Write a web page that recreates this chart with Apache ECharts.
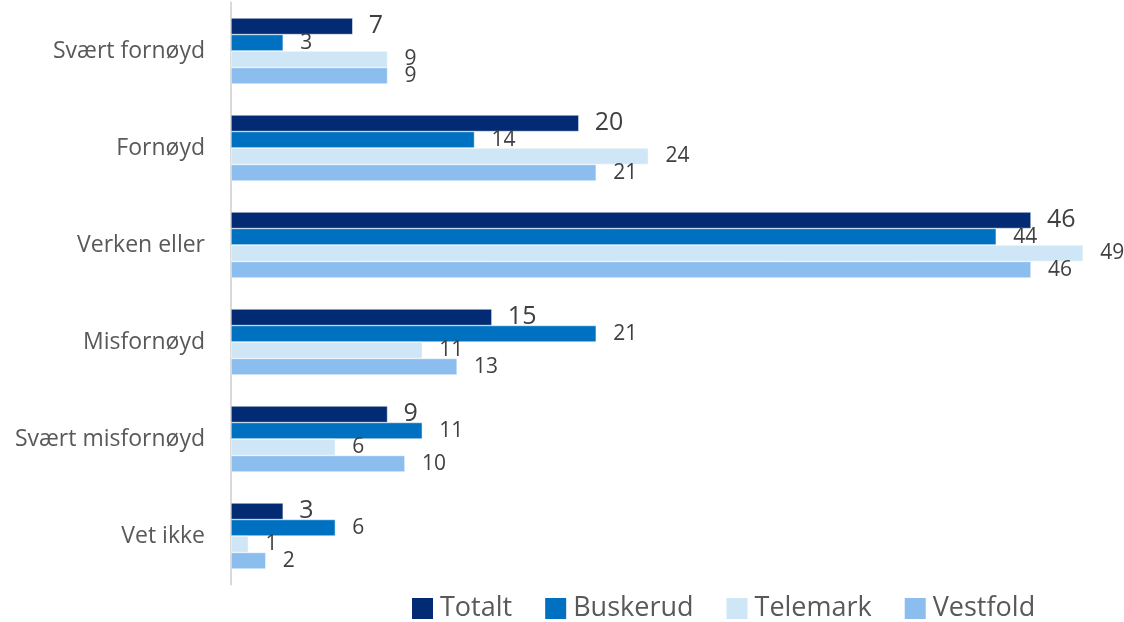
<!DOCTYPE html>
<html><head><meta charset="utf-8">
<script src="https://cdn.jsdelivr.net/npm/echarts@6/dist/echarts.min.js"></script>
<style>html,body{margin:0;padding:0;background:#fff}#c{width:1124px;height:622px}</style>
</head><body><div id="c"></div>
<script>
const categories = ['Svært fornøyd','Fornøyd','Verken eller','Misfornøyd','Svært misfornøyd','Vet ikke'];
const seriesNames = ['Totalt','Buskerud','Telemark','Vestfold'];
const totalt = [7,20,46,15,9,3];
const buskerud = [3,14,44,21,11,6];
const telemark = [9,24,49,11,6,1];
const vestfold = [9,21,46,13,10,2];
const colors = ['#022B73','#0070C0','#CFE6F6','#8BBEEF'];
const values = [totalt,buskerud,telemark,vestfold];
const font = 'Open Sans, Noto Sans, sans-serif';
const chart = echarts.init(document.getElementById('c'));
chart.setOption({
  animation:false,
  grid:{left:231, top:2.5, bottom:622-584.5, width:17.391*50},
  xAxis:{type:'value', min:0, max:50, show:false, splitLine:{show:false}},
  yAxis:{type:'category', data:categories, inverse:true,
    axisLine:{show:true, lineStyle:{color:'#D9D9D9', width:2}},
    axisTick:{show:false},
    axisLabel:{color:'#595959', fontSize:23, fontFamily:font, margin:26}},
  legend:{top:595, left:412, padding:0, itemWidth:21, itemHeight:21, itemGap:33,
    icon:'rect', itemStyle:{borderWidth:0},
    textStyle:{color:'#595959', fontSize:27, fontFamily:font, padding:[0,0,0,2]}},
  series: seriesNames.map((n,i)=>({
    name:n, type:'bar', data:values[i], barGap:'0%', barCategoryGap:'32%',
    itemStyle:{color:colors[i], borderColor:'#fff', borderWidth:0.5},
    label:{show:true, position:'right', distance:i===0?16:17, color:'#404040',
      fontSize:i===0?25:21, fontFamily:font}
  }))
});
</script></body></html>
